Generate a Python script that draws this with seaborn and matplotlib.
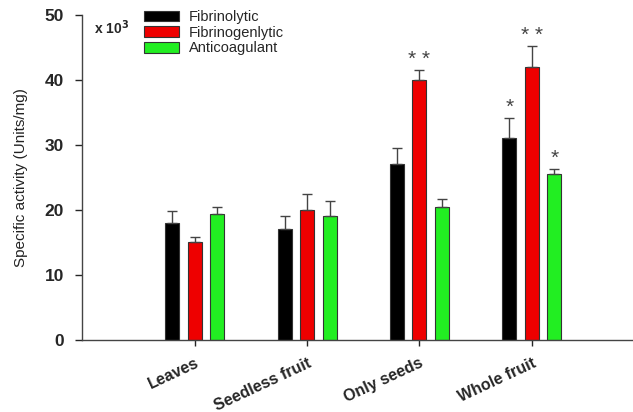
import matplotlib
matplotlib.use("Agg")
import matplotlib.pyplot as plt
import seaborn as sns
import pandas as pd
import numpy as np
from matplotlib.patches import Patch

categories = ["Leaves", "Seedless fruit", "Only seeds", "Whole fruit"]
series = ["Fibrinolytic", "Fibrinogenlytic", "Anticoagulant"]
fibrinolytic = [18.0, 17.0, 27.1, 31.1]
fibrinogenlytic = [15.0, 20.0, 40.0, 42.0]
anticoagulant = [19.4, 19.0, 20.4, 25.5]
err_fibrinolytic = [1.8, 2.0, 2.4, 3.0]
err_fibrinogenlytic = [0.9, 2.5, 1.5, 3.2]
err_anticoagulant = [1.1, 2.3, 1.2, 0.8]
sig_fibrinolytic = ["", "", "", "*"]
sig_fibrinogenlytic = ["", "", "* *", "* *"]
sig_anticoagulant = ["", "", "", "*"]

values = [fibrinolytic, fibrinogenlytic, anticoagulant]
errors = [err_fibrinolytic, err_fibrinogenlytic, err_anticoagulant]
sigs = [sig_fibrinolytic, sig_fibrinogenlytic, sig_anticoagulant]
colors = ["#000000", "#ee0000", "#22ee22"]

rows = []
for s, vals in zip(series, values):
    for c, v in zip(categories, vals):
        rows.append({"Category": c, "Series": s, "Value": v})
df = pd.DataFrame(rows)

sns.set_style("ticks")
plt.rcParams["font.family"] = ["Liberation Sans", "DejaVu Sans"]

fig = plt.figure(figsize=(6.33, 4.12), dpi=100)
ax = fig.add_axes([0.13, 0.175, 0.87, 0.789])

sns.barplot(data=df, x="Category", y="Value", hue="Series", order=categories,
            hue_order=series, palette=colors, saturation=1, width=0.6, gap=0.375,
            edgecolor="#333333", linewidth=0.8, errorbar=None, ax=ax, legend=False)

# error bars and significance marks from bar patches
patches = [p for p in ax.patches if p.get_height() > 0]
idx = 0
for si in range(len(series)):
    for ci in range(len(categories)):
        p = patches[idx]
        idx += 1
        xc = p.get_x() + p.get_width() / 2
        h = p.get_height()
        e = errors[si][ci]
        ax.errorbar([xc], [h], yerr=[[0], [e]], fmt="none", ecolor="#444444",
                    elinewidth=1.0, capsize=3.5, capthick=1.0, zorder=1)
        if sigs[si][ci]:
            ax.text(xc, h + e + 0.2, sigs[si][ci], ha="center", va="bottom",
                    fontsize=15, color="#444444")

ax.set_xlim(-1.0, 3.9)
ax.set_ylim(0, 50)
ax.set_yticks([0, 10, 20, 30, 40, 50])
ax.set_xlabel("")
ax.set_ylabel("Specific activity (Units/mg)", fontsize=11, labelpad=12, color="#222222")
for lab in ax.get_yticklabels():
    lab.set_fontweight("bold")
    lab.set_fontsize(12.5)
ax.set_xticks(range(len(categories)))
ax.set_xticklabels(categories, rotation=25, ha="right", rotation_mode="anchor",
                   fontsize=11.5, fontweight="bold")
ax.tick_params(axis="y", direction="out", length=5, width=1, pad=8)
ax.tick_params(axis="x", direction="out", length=4, width=1, pad=7)
sns.despine(ax=ax)
for sp in ["left", "bottom"]:
    ax.spines[sp].set_linewidth(1.0)
    ax.spines[sp].set_color("#444444")

handles = [Patch(facecolor=c, edgecolor="#333333", linewidth=0.8) for c in colors]
ax.legend(handles, series, loc="upper left", bbox_to_anchor=(0.112, 1.015),
          frameon=False, fontsize=10.5, handlelength=2.4, handleheight=0.75,
          labelspacing=0.12, handletextpad=0.7, borderaxespad=0, borderpad=0)
ax.text(0.022, 0.99, r"x 10$^\mathbf{3}$", transform=ax.transAxes, fontsize=10,
        fontweight="bold", ha="left", va="top")

fig.savefig("out.png", dpi=100)
